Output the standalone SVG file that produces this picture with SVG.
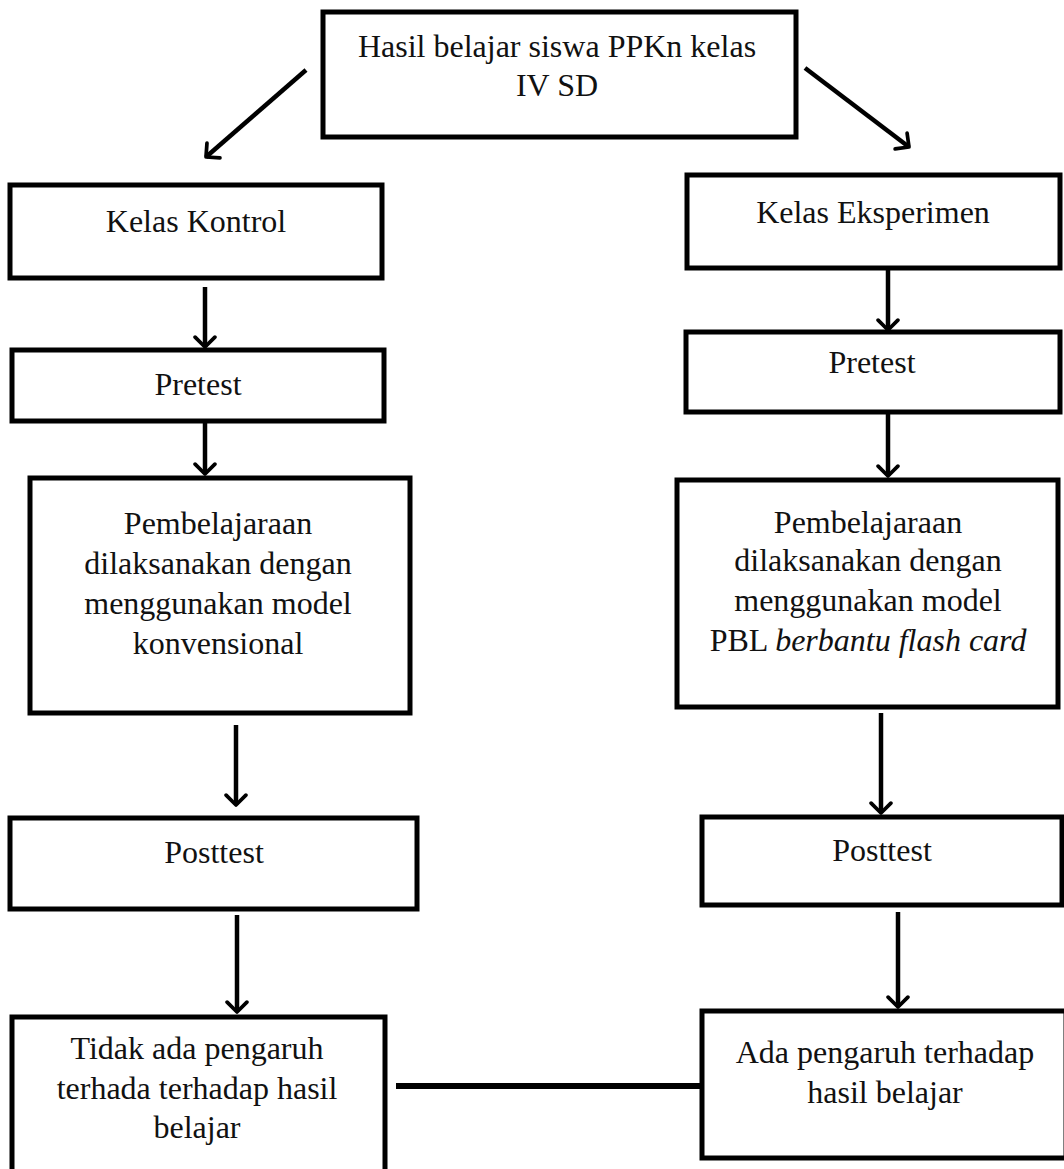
<svg xmlns="http://www.w3.org/2000/svg" width="1064" height="1169" viewBox="0 0 1064 1169">
<style>
.box{fill:#fff;stroke:#000;stroke-width:5}
.t{font-family:"Liberation Serif","Times New Roman",serif;font-size:32px;fill:#111;text-anchor:middle}
.arr{stroke:#000;stroke-width:4.5;fill:none;marker-end:url(#ah)}
</style>
<defs>
<marker id="ah" viewBox="0 0 20 20" refX="10" refY="10" markerWidth="5.5" markerHeight="5.5" orient="auto" markerUnits="strokeWidth">
<path d="M2,2 L10,10 L2,18" fill="none" stroke="#000" stroke-width="3" stroke-linecap="round" stroke-linejoin="round"/>
</marker>
</defs>
<rect width="1064" height="1169" fill="#fff"/>
<g id="connectors">
<line class="arr" x1="306" y1="70" x2="206" y2="157"/>
<line class="arr" x1="805" y1="68" x2="909" y2="147"/>
<line class="arr" x1="205" y1="287" x2="205" y2="347"/>
<line class="arr" x1="205" y1="422" x2="205" y2="474"/>
<line class="arr" x1="236" y1="725" x2="236" y2="805"/>
<line class="arr" x1="237" y1="915" x2="237" y2="1012"/>
<line class="arr" x1="888" y1="268" x2="888" y2="330"/>
<line class="arr" x1="888" y1="412" x2="888" y2="476"/>
<line class="arr" x1="881" y1="713" x2="881" y2="813"/>
<line class="arr" x1="898" y1="912" x2="898" y2="1007"/>
<line x1="396" y1="1086" x2="702" y2="1086" stroke="#000" stroke-width="6"/>
</g>
<g id="n-top"><rect class="box" x="323" y="12" width="473" height="125"/>
<text class="t" x="557" y="57">Hasil belajar siswa PPKn kelas</text>
<text class="t" x="557" y="96">IV SD</text></g>
<g id="n-kontrol"><rect class="box" x="10" y="185" width="372" height="93"/>
<text class="t" x="196" y="232">Kelas Kontrol</text></g>
<g id="n-pretest-l"><rect class="box" x="12" y="350" width="372" height="71"/>
<text class="t" x="198" y="395">Pretest</text></g>
<g id="n-pemb-l"><rect class="box" x="30" y="478" width="380" height="235"/>
<text class="t" x="218" y="534">Pembelajaraan</text>
<text class="t" x="218" y="574">dilaksanakan dengan</text>
<text class="t" x="218" y="614">menggunakan model</text>
<text class="t" x="218" y="654">konvensional</text></g>
<g id="n-post-l"><rect class="box" x="10" y="818" width="407" height="91"/>
<text class="t" x="214" y="863">Posttest</text></g>
<g id="n-hasil-l"><rect class="box" x="12" y="1017" width="373" height="160"/>
<text class="t" x="197" y="1059">Tidak ada pengaruh</text>
<text class="t" x="197" y="1099">terhada terhadap hasil</text>
<text class="t" x="197" y="1138">belajar</text></g>
<g id="n-eksperimen"><rect class="box" x="687" y="175" width="373" height="93"/>
<text class="t" x="873" y="223">Kelas Eksperimen</text></g>
<g id="n-pretest-r"><rect class="box" x="686" y="332" width="374" height="80"/>
<text class="t" x="872" y="373">Pretest</text></g>
<g id="n-pemb-r"><rect class="box" x="677" y="480" width="381" height="227"/>
<text class="t" x="868" y="533">Pembelajaraan</text>
<text class="t" x="868" y="571">dilaksanakan dengan</text>
<text class="t" x="868" y="611">menggunakan model</text>
<text class="t" x="868" y="651">PBL <tspan font-style="italic">berbantu flash card</tspan></text></g>
<g id="n-post-r"><rect class="box" x="702" y="817" width="360" height="88"/>
<text class="t" x="882" y="861">Posttest</text></g>
<g id="n-hasil-r"><rect class="box" x="702" y="1011" width="364" height="147"/>
<text class="t" x="885" y="1063">Ada pengaruh terhadap</text>
<text class="t" x="885" y="1103">hasil belajar</text></g>
</svg>
